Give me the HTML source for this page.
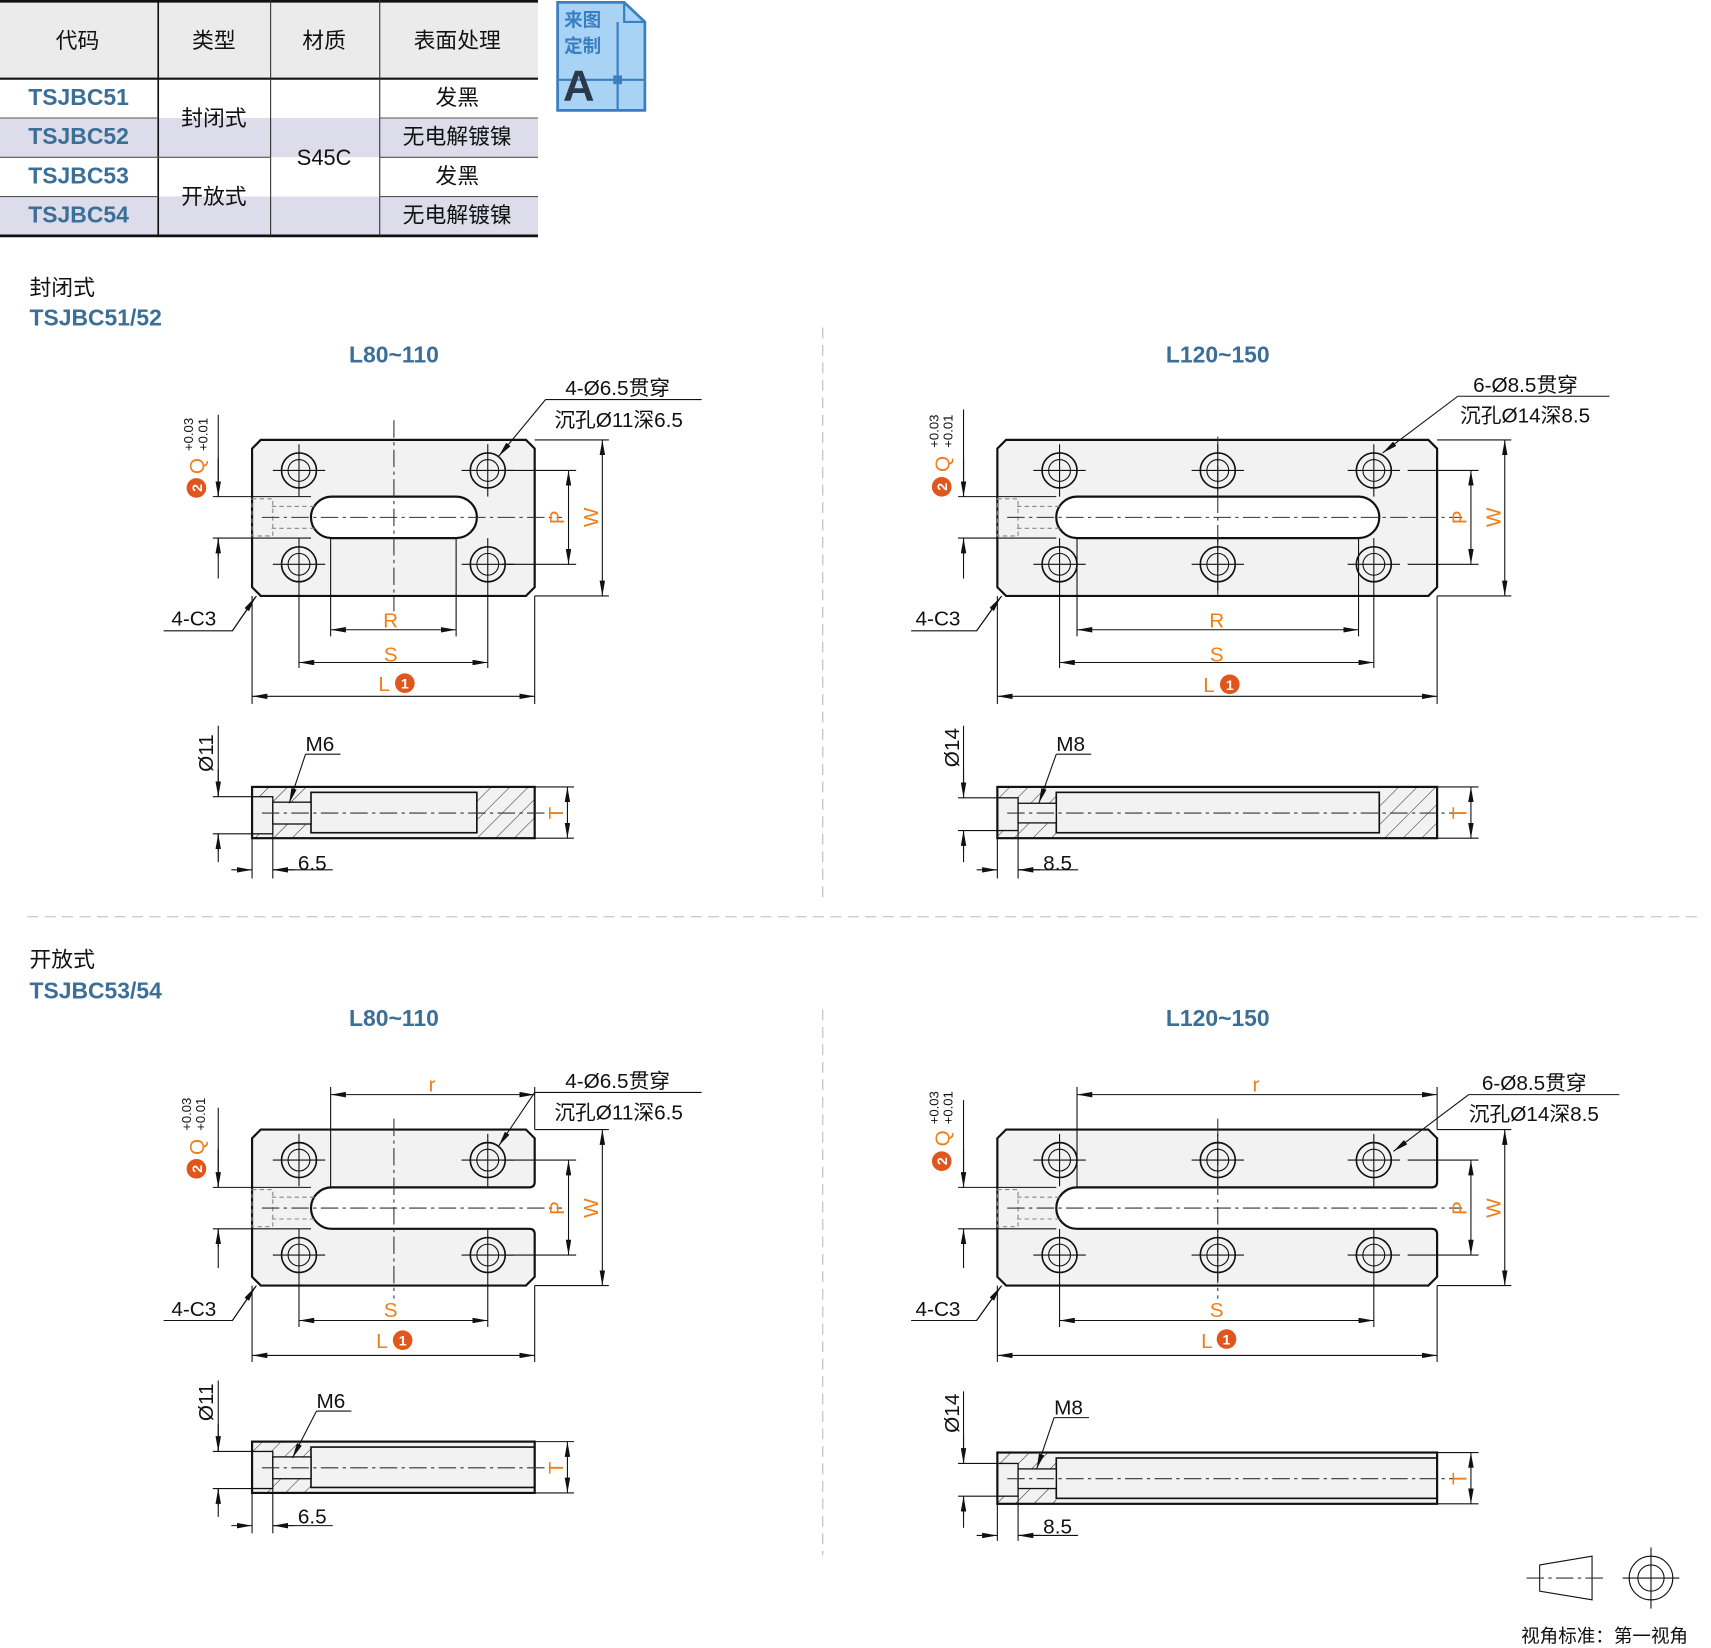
<!DOCTYPE html>
<html><head><meta charset="utf-8"><style>
html,body{margin:0;padding:0;background:#fff}
svg{display:block}
text{font-family:"Liberation Sans","Noto Sans CJK SC",sans-serif}
</style></head><body>
<svg width="1711" height="1648" viewBox="0 0 1568 1510" xmlns="http://www.w3.org/2000/svg">
<defs>
<marker id="a" viewBox="0 0 14 5" refX="14" refY="2.5" markerWidth="14" markerHeight="5" markerUnits="userSpaceOnUse" orient="auto-start-reverse"><path d="M0,0 L14,2.5 L0,5z" fill="#111"/></marker>
<pattern id="h" patternUnits="userSpaceOnUse" width="12" height="12" patternTransform="rotate(45)"><rect width="12" height="12" fill="#f2f2f2"/><line x1="0" y1="0" x2="0" y2="12" stroke="#333" stroke-width="1"/></pattern>
</defs>
<style>
.t{font-size:19px;fill:#111}
.o{font-size:19px;fill:#f07f1a}
.b{font-size:21px;fill:#3c6f98;font-weight:bold}
.th{stroke:#111;stroke-width:1;fill:none}
.pl{stroke:#111;stroke-width:2;fill:#f2f2f2}
.cl{stroke:#333;stroke-width:1;stroke-dasharray:16 4 3 4;fill:none}
.dh{stroke:#888;stroke-width:1;stroke-dasharray:4 3;fill:none}
.dm{stroke:#111;stroke-width:1;fill:none;marker-start:url(#a);marker-end:url(#a)}
.de{stroke:#111;stroke-width:1;fill:none;marker-end:url(#a)}
.sep{stroke:#bbb;stroke-width:1;stroke-dasharray:10 6}
</style>

<!-- TABLE -->
<rect x="0" y="0" width="493" height="72" fill="#ebebeb"/>
<rect x="0" y="108" width="145" height="36" fill="#dcdcea"/>
<rect x="0" y="180" width="145" height="36" fill="#dcdcea"/>
<rect x="145" y="108" width="348" height="36" fill="#dcdcea"/>
<rect x="145" y="180" width="348" height="36" fill="#dcdcea"/>
<rect x="145" y="72" width="203" height="36" fill="#fff"/>
<rect x="145" y="144" width="203" height="36" fill="#fff"/>
<rect x="145" y="108" width="103" height="36" fill="#dcdcea"/>
<rect x="145" y="180" width="103" height="36" fill="#dcdcea"/>
<line x1="0" y1="1" x2="493" y2="1" stroke="#111" stroke-width="2.5"/>
<line x1="0" y1="72" x2="493" y2="72" stroke="#111" stroke-width="2"/>
<line x1="0" y1="216" x2="493" y2="216" stroke="#111" stroke-width="2.5"/>
<line x1="145" y1="0" x2="145" y2="216" stroke="#111" stroke-width="1.5"/>
<line x1="248" y1="0" x2="248" y2="216" stroke="#333" stroke-width="1"/>
<line x1="348" y1="0" x2="348" y2="216" stroke="#333" stroke-width="1"/>
<g stroke="#555" stroke-width="1">
<line x1="0" y1="108" x2="145" y2="108"/><line x1="0" y1="144" x2="248" y2="144"/><line x1="0" y1="180" x2="145" y2="180"/>
<line x1="348" y1="108" x2="493" y2="108"/><line x1="348" y1="144" x2="493" y2="144"/><line x1="348" y1="180" x2="493" y2="180"/>
</g>
<g font-size="20" fill="#111" text-anchor="middle">
<text x="71" y="44">代码</text><text x="196" y="44">类型</text><text x="297" y="44">材质</text><text x="419" y="44">表面处理</text>
<text x="196" y="115">封闭式</text><text x="196" y="187">开放式</text><text x="297" y="151">S45C</text>
<text x="419" y="96">发黑</text><text x="419" y="132">无电解镀镍</text><text x="419" y="168">发黑</text><text x="419" y="204">无电解镀镍</text>
</g>
<g class="b" text-anchor="middle" font-size="20">
<text x="72" y="96">TSJBC51</text><text x="72" y="132">TSJBC52</text><text x="72" y="168">TSJBC53</text><text x="72" y="204">TSJBC54</text>
</g>
<!-- badge -->
<path d="M511,2 H572 L591,20 V101 H511 Z" fill="#a8d3f5" stroke="#3a7fc1" stroke-width="2.5"/>
<path d="M572,2 V20 H591" fill="none" stroke="#3a7fc1" stroke-width="2"/>
<line x1="511" y1="73" x2="591" y2="73" stroke="#3a7fc1" stroke-width="2"/>
<line x1="566" y1="20" x2="566" y2="101" stroke="#3a7fc1" stroke-width="2"/>
<rect x="562" y="69" width="8" height="8" fill="#3a7fc1"/>
<text x="517" y="24" font-size="17" fill="#3a7fc1" font-weight="bold">来图</text>
<text x="517" y="48" font-size="17" fill="#3a7fc1" font-weight="bold">定制</text>
<text x="516" y="92" font-size="40" fill="#2a3a4a" font-weight="bold">A</text>

<!-- headings -->
<text x="27" y="270" font-size="20" fill="#111">封闭式</text>
<text x="27" y="298" class="b">TSJBC51/52</text>
<text x="27" y="886" font-size="20" fill="#111">开放式</text>
<text x="27" y="915" class="b">TSJBC53/54</text>
<text x="361" y="332" class="b" text-anchor="middle">L80~110</text>
<text x="1116" y="332" class="b" text-anchor="middle">L120~150</text>
<text x="361" y="940" class="b" text-anchor="middle">L80~110</text>
<text x="1116" y="940" class="b" text-anchor="middle">L120~150</text>
<line class="sep" x1="754" y1="300" x2="754" y2="825"/>
<line class="sep" x1="754" y1="925" x2="754" y2="1425"/>
<line class="sep" x1="25" y1="840" x2="1555" y2="840"/>

<!-- ===== DRAWING 1 closed small ===== -->
<path class="pl" d="M239,403 H482 L490,411 V538 L482,546 H239 L231,538 V411 Z"/>
<rect x="285" y="455" width="152" height="38" rx="19" fill="#fff" stroke="#111" stroke-width="2"/>
<rect class="dh" x="231" y="457" width="19" height="34"/>
<line class="dh" x1="249" y1="464" x2="290" y2="464" stroke="#111"/><line class="dh" x1="249" y1="484" x2="290" y2="484" stroke="#111"/>
<line class="cl" x1="361" y1="385" x2="361" y2="560"/>
<line class="cl" x1="240" y1="474" x2="515" y2="474"/>
<g class="th">
<circle cx="274" cy="431" r="16" stroke-width="1.5"/><circle cx="274" cy="431" r="10"/>
<circle cx="447" cy="431" r="16" stroke-width="1.5"/><circle cx="447" cy="431" r="10"/>
<circle cx="274" cy="517" r="16" stroke-width="1.5"/><circle cx="274" cy="517" r="10"/>
<circle cx="447" cy="517" r="16" stroke-width="1.5"/><circle cx="447" cy="517" r="10"/>
<path d="M250,431 H298 M274,407 V455 M423,431 H471 M447,407 V455 M250,517 H298 M274,493 V541 M423,517 H471 M447,493 V541"/>
<path d="M195,455 H285 M195,493 H285 M460,431 H528 M460,517 H528 M490,403 H558 M490,546 H558"/>
<path d="M303,493 V583 M418,493 V583 M274,541 V612 M447,541 V612 M231,546 V645 M490,546 V645"/>
<path d="M235,546 L213,578 H150"/>
<path d="M500,366 H643"/>
<path d="M200,380 V455 M200,493 V510"/>
</g>
<line class="de" x1="200" y1="420" x2="200" y2="455"/><line class="de" x1="200" y1="530" x2="200" y2="493"/>
<line class="dm" x1="521" y1="431" x2="521" y2="517"/>
<line class="dm" x1="552" y1="403" x2="552" y2="546"/>
<line class="dm" x1="303" y1="577" x2="418" y2="577"/>
<line class="dm" x1="274" y1="607" x2="447" y2="607"/>
<line class="dm" x1="231" y1="638" x2="490" y2="638"/>
<line class="de" x1="213" y1="578" x2="234" y2="547"/>
<line class="de" x1="500" y1="366" x2="457" y2="418"/>
<text x="358" y="575" class="o" text-anchor="middle">R</text>
<text x="358" y="606" class="o" text-anchor="middle">S</text>
<text x="352" y="633" class="o" text-anchor="middle">L</text>
<circle cx="371" cy="626" r="9" fill="#e0561c"/><text x="371" y="631" font-size="13" fill="#fff" font-weight="bold" text-anchor="middle">1</text>
<text transform="translate(517,474) rotate(-90)" class="o" text-anchor="middle">P</text>
<text transform="translate(548,474) rotate(-90)" class="o" text-anchor="middle">W</text>
<circle cx="180" cy="447" r="9" fill="#e0561c"/><text transform="translate(185,447) rotate(-90)" font-size="13" fill="#fff" font-weight="bold" text-anchor="middle">2</text>
<text transform="translate(187,427) rotate(-90)" class="o" text-anchor="middle">Q</text>
<text transform="translate(177,398) rotate(-90)" font-size="12" fill="#111" text-anchor="middle">+0.03</text>
<text transform="translate(190,398) rotate(-90)" font-size="12" fill="#111" text-anchor="middle">+0.01</text>
<text x="157" y="573" class="t">4-C3</text>
<text x="518" y="362" class="t">4-Ø6.5贯穿</text>
<text x="508" y="391" class="t">沉孔Ø11深6.5</text>
<!-- side 1 -->
<rect x="231" y="721" width="259" height="47" fill="#f2f2f2"/>
<rect x="231" y="721" width="54" height="47" fill="url(#h)"/>
<rect x="437" y="721" width="53" height="47" fill="url(#h)"/>
<rect x="285" y="726" width="152" height="37" fill="#f2f2f2" stroke="#111" stroke-width="1.5"/>
<rect x="231" y="730" width="19" height="34" fill="#f2f2f2" stroke="#111" stroke-width="1.2"/>
<rect x="250" y="735" width="35" height="20" fill="#f2f2f2" stroke="#111" stroke-width="1.2"/>
<rect x="231" y="721" width="259" height="47" fill="none" stroke="#111" stroke-width="2"/>
<line class="cl" x1="240" y1="745" x2="515" y2="745"/>
<g class="th"><path d="M195,730 H231 M195,764 H231 M200,665 V730 M200,764 V780 M490,721 H526 M490,768 H526 M231,768 V805 M250,764 V805 M280,691 H312 M250,797 H305"/></g>
<line class="de" x1="200" y1="705" x2="200" y2="730"/><line class="de" x1="200" y1="790" x2="200" y2="764"/>
<line class="dm" x1="520" y1="721" x2="520" y2="768"/>
<line class="de" x1="212" y1="797" x2="231" y2="797"/><line class="de" x1="270" y1="797" x2="250" y2="797"/>
<line class="de" x1="280" y1="691" x2="265" y2="736"/>
<text transform="translate(195,690) rotate(-90)" class="t" text-anchor="middle">Ø11</text>
<text x="280" y="688" class="t">M6</text>
<text x="273" y="797" class="t">6.5</text>
<text transform="translate(516,745) rotate(-90)" class="o" text-anchor="middle">T</text>

<!-- ===== DRAWING 2 closed large ===== -->
<path class="pl" d="M922,403 H1309 L1317,411 V538 L1309,546 H922 L914,538 V411 Z"/>
<rect x="968" y="455" width="296" height="38" rx="19" fill="#fff" stroke="#111" stroke-width="2"/>
<rect class="dh" x="914" y="457" width="19" height="34"/>
<line class="dh" x1="932" y1="464" x2="973" y2="464" stroke="#111"/><line class="dh" x1="932" y1="484" x2="973" y2="484" stroke="#111"/>
<line class="cl" x1="1116" y1="400" x2="1116" y2="545"/>
<line class="cl" x1="923" y1="474" x2="1340" y2="474"/>
<g class="th">
<circle cx="971" cy="431" r="16" stroke-width="1.5"/><circle cx="971" cy="431" r="10"/>
<circle cx="1116" cy="431" r="16" stroke-width="1.5"/><circle cx="1116" cy="431" r="10"/>
<circle cx="1259" cy="431" r="16" stroke-width="1.5"/><circle cx="1259" cy="431" r="10"/>
<circle cx="971" cy="517" r="16" stroke-width="1.5"/><circle cx="971" cy="517" r="10"/>
<circle cx="1116" cy="517" r="16" stroke-width="1.5"/><circle cx="1116" cy="517" r="10"/>
<circle cx="1259" cy="517" r="16" stroke-width="1.5"/><circle cx="1259" cy="517" r="10"/>
<path d="M947,431 H995 M971,407 V455 M1092,431 H1140 M1116,407 V455 M1235,431 H1283 M1259,407 V455 M947,517 H995 M971,493 V541 M1092,517 H1140 M1116,493 V541 M1235,517 H1283 M1259,493 V541"/>
<path d="M878,455 H968 M878,493 H968 M1290,431 H1355 M1290,517 H1355 M1317,403 H1385 M1317,546 H1385"/>
<path d="M987,493 V583 M1245,493 V583 M971,541 V612 M1259,541 V612 M914,546 V645 M1317,546 V645"/>
<path d="M918,546 L895,578 H835"/>
<path d="M1336,363 H1475"/>
<path d="M883,375 V455 M883,493 V510"/>
</g>
<line class="de" x1="883" y1="420" x2="883" y2="455"/><line class="de" x1="883" y1="530" x2="883" y2="493"/>
<line class="dm" x1="1348" y1="431" x2="1348" y2="517"/>
<line class="dm" x1="1379" y1="403" x2="1379" y2="546"/>
<line class="dm" x1="987" y1="577" x2="1245" y2="577"/>
<line class="dm" x1="971" y1="607" x2="1259" y2="607"/>
<line class="dm" x1="914" y1="638" x2="1317" y2="638"/>
<line class="de" x1="895" y1="578" x2="917" y2="547"/>
<line class="de" x1="1336" y1="363" x2="1267" y2="415"/>
<text x="1115" y="575" class="o" text-anchor="middle">R</text>
<text x="1115" y="606" class="o" text-anchor="middle">S</text>
<text x="1108" y="634" class="o" text-anchor="middle">L</text>
<circle cx="1127" cy="627" r="9" fill="#e0561c"/><text x="1127" y="632" font-size="13" fill="#fff" font-weight="bold" text-anchor="middle">1</text>
<text transform="translate(1344,474) rotate(-90)" class="o" text-anchor="middle">P</text>
<text transform="translate(1375,474) rotate(-90)" class="o" text-anchor="middle">W</text>
<circle cx="863" cy="446" r="9" fill="#e0561c"/><text transform="translate(868,446) rotate(-90)" font-size="13" fill="#fff" font-weight="bold" text-anchor="middle">2</text>
<text transform="translate(870,425) rotate(-90)" class="o" text-anchor="middle">Q</text>
<text transform="translate(860,395) rotate(-90)" font-size="12" fill="#111" text-anchor="middle">+0.03</text>
<text transform="translate(873,395) rotate(-90)" font-size="12" fill="#111" text-anchor="middle">+0.01</text>
<text x="839" y="573" class="t">4-C3</text>
<text x="1350" y="359" class="t">6-Ø8.5贯穿</text>
<text x="1338" y="387" class="t">沉孔Ø14深8.5</text>
<!-- side 2 -->
<rect x="914" y="721" width="403" height="47" fill="#f2f2f2"/>
<rect x="914" y="721" width="54" height="47" fill="url(#h)"/>
<rect x="1264" y="721" width="53" height="47" fill="url(#h)"/>
<rect x="968" y="726" width="296" height="37" fill="#f2f2f2" stroke="#111" stroke-width="1.5"/>
<rect x="914" y="731" width="19" height="30" fill="#f2f2f2" stroke="#111" stroke-width="1.2"/>
<rect x="933" y="736" width="35" height="18" fill="#f2f2f2" stroke="#111" stroke-width="1.2"/>
<rect x="914" y="721" width="403" height="47" fill="none" stroke="#111" stroke-width="2"/>
<line class="cl" x1="923" y1="745" x2="1340" y2="745"/>
<g class="th"><path d="M878,731 H914 M878,761 H914 M883,665 V731 M883,761 V780 M1317,721 H1355 M1317,768 H1355 M914,768 V805 M933,761 V805 M968,691 H1000 M933,797 H988"/></g>
<line class="de" x1="883" y1="705" x2="883" y2="731"/><line class="de" x1="883" y1="790" x2="883" y2="761"/>
<line class="dm" x1="1348" y1="721" x2="1348" y2="768"/>
<line class="de" x1="895" y1="797" x2="914" y2="797"/><line class="de" x1="953" y1="797" x2="933" y2="797"/>
<line class="de" x1="968" y1="691" x2="952" y2="736"/>
<text transform="translate(879,685) rotate(-90)" class="t" text-anchor="middle">Ø14</text>
<text x="968" y="688" class="t">M8</text>
<text x="956" y="797" class="t">8.5</text>
<text transform="translate(1344,745) rotate(-90)" class="o" text-anchor="middle">T</text>

<!-- ===== DRAWING 3 open small ===== -->
<path class="pl" d="M239,1035 H482 L490,1043 V1083 Q490,1088 485,1088 H304 A19,19 0 0 0 304,1126 H485 Q490,1126 490,1131 V1170 L482,1178 H239 L231,1170 V1043 Z"/>
<rect class="dh" x="231" y="1090" width="19" height="34"/>
<line class="dh" x1="249" y1="1097" x2="290" y2="1097" stroke="#111"/><line class="dh" x1="249" y1="1117" x2="290" y2="1117" stroke="#111"/>
<line class="cl" x1="361" y1="1025" x2="361" y2="1190"/>
<line class="cl" x1="240" y1="1107" x2="515" y2="1107"/>
<g class="th">
<circle cx="274" cy="1063" r="16" stroke-width="1.5"/><circle cx="274" cy="1063" r="10"/>
<circle cx="447" cy="1063" r="16" stroke-width="1.5"/><circle cx="447" cy="1063" r="10"/>
<circle cx="274" cy="1150" r="16" stroke-width="1.5"/><circle cx="274" cy="1150" r="10"/>
<circle cx="447" cy="1150" r="16" stroke-width="1.5"/><circle cx="447" cy="1150" r="10"/>
<path d="M250,1063 H298 M274,1039 V1087 M423,1063 H471 M447,1039 V1087 M250,1150 H298 M274,1126 V1174 M423,1150 H471 M447,1126 V1174"/>
<path d="M195,1088 H285 M195,1126 H285 M460,1063 H528 M460,1150 H528 M490,1035 H558 M490,1178 H558"/>
<path d="M303,996 V1088 M490,996 V1035 M274,1174 V1216 M447,1174 V1216 M231,1178 V1248 M490,1178 V1248"/>
<path d="M235,1178 L213,1210 H150"/>
<path d="M490,1001 H643"/>
<path d="M200,1015 V1088 M200,1126 V1143"/>
</g>
<line class="de" x1="200" y1="1053" x2="200" y2="1088"/><line class="de" x1="200" y1="1162" x2="200" y2="1126"/>
<line class="dm" x1="303" y1="1003" x2="490" y2="1003"/>
<line class="dm" x1="521" y1="1063" x2="521" y2="1150"/>
<line class="dm" x1="552" y1="1035" x2="552" y2="1178"/>
<line class="dm" x1="274" y1="1210" x2="447" y2="1210"/>
<line class="dm" x1="231" y1="1242" x2="490" y2="1242"/>
<line class="de" x1="213" y1="1210" x2="234" y2="1179"/>
<line class="de" x1="490" y1="1001" x2="457" y2="1050"/>
<text x="396" y="1000" class="o" text-anchor="middle">r</text>
<text x="358" y="1207" class="o" text-anchor="middle">S</text>
<text x="350" y="1235" class="o" text-anchor="middle">L</text>
<circle cx="369" cy="1228" r="9" fill="#e0561c"/><text x="369" y="1233" font-size="13" fill="#fff" font-weight="bold" text-anchor="middle">1</text>
<text transform="translate(517,1107) rotate(-90)" class="o" text-anchor="middle">P</text>
<text transform="translate(548,1107) rotate(-90)" class="o" text-anchor="middle">W</text>
<circle cx="180" cy="1071" r="9" fill="#e0561c"/><text transform="translate(185,1071) rotate(-90)" font-size="13" fill="#fff" font-weight="bold" text-anchor="middle">2</text>
<text transform="translate(187,1051) rotate(-90)" class="o" text-anchor="middle">Q</text>
<text transform="translate(175,1021) rotate(-90)" font-size="12" fill="#111" text-anchor="middle">+0.03</text>
<text transform="translate(188,1021) rotate(-90)" font-size="12" fill="#111" text-anchor="middle">+0.01</text>
<text x="157" y="1206" class="t">4-C3</text>
<text x="518" y="997" class="t">4-Ø6.5贯穿</text>
<text x="508" y="1026" class="t">沉孔Ø11深6.5</text>
<!-- side 3 -->
<rect x="231" y="1321" width="259" height="47" fill="#f2f2f2"/>
<rect x="231" y="1321" width="54" height="47" fill="url(#h)"/>
<rect x="285" y="1326" width="205" height="37" fill="#f2f2f2" stroke="#111" stroke-width="1.5"/>
<rect x="231" y="1330" width="19" height="34" fill="#f2f2f2" stroke="#111" stroke-width="1.2"/>
<rect x="250" y="1335" width="35" height="20" fill="#f2f2f2" stroke="#111" stroke-width="1.2"/>
<rect x="231" y="1321" width="259" height="47" fill="none" stroke="#111" stroke-width="2"/>
<line class="cl" x1="240" y1="1345" x2="515" y2="1345"/>
<g class="th"><path d="M195,1330 H231 M195,1364 H231 M200,1265 V1330 M200,1364 V1380 M490,1321 H526 M490,1368 H526 M231,1368 V1405 M250,1364 V1405 M290,1293 H322 M250,1398 H305"/></g>
<line class="de" x1="200" y1="1305" x2="200" y2="1330"/><line class="de" x1="200" y1="1390" x2="200" y2="1364"/>
<line class="dm" x1="520" y1="1321" x2="520" y2="1368"/>
<line class="de" x1="212" y1="1398" x2="231" y2="1398"/><line class="de" x1="270" y1="1398" x2="250" y2="1398"/>
<line class="de" x1="290" y1="1293" x2="268" y2="1336"/>
<text transform="translate(195,1285) rotate(-90)" class="t" text-anchor="middle">Ø11</text>
<text x="290" y="1290" class="t">M6</text>
<text x="273" y="1396" class="t">6.5</text>
<text transform="translate(516,1345) rotate(-90)" class="o" text-anchor="middle">T</text>

<!-- ===== DRAWING 4 open large ===== -->
<path class="pl" d="M922,1035 H1309 L1317,1043 V1083 Q1317,1088 1312,1088 H987 A19,19 0 0 0 987,1126 H1312 Q1317,1126 1317,1131 V1170 L1309,1178 H922 L914,1170 V1043 Z"/>
<rect class="dh" x="914" y="1090" width="19" height="34"/>
<line class="dh" x1="932" y1="1097" x2="973" y2="1097" stroke="#111"/><line class="dh" x1="932" y1="1117" x2="973" y2="1117" stroke="#111"/>
<line class="cl" x1="1116" y1="1025" x2="1116" y2="1190"/>
<line class="cl" x1="923" y1="1107" x2="1340" y2="1107"/>
<g class="th">
<circle cx="971" cy="1063" r="16" stroke-width="1.5"/><circle cx="971" cy="1063" r="10"/>
<circle cx="1116" cy="1063" r="16" stroke-width="1.5"/><circle cx="1116" cy="1063" r="10"/>
<circle cx="1259" cy="1063" r="16" stroke-width="1.5"/><circle cx="1259" cy="1063" r="10"/>
<circle cx="971" cy="1150" r="16" stroke-width="1.5"/><circle cx="971" cy="1150" r="10"/>
<circle cx="1116" cy="1150" r="16" stroke-width="1.5"/><circle cx="1116" cy="1150" r="10"/>
<circle cx="1259" cy="1150" r="16" stroke-width="1.5"/><circle cx="1259" cy="1150" r="10"/>
<path d="M947,1063 H995 M971,1039 V1087 M1092,1063 H1140 M1116,1039 V1087 M1235,1063 H1283 M1259,1039 V1087 M947,1150 H995 M971,1126 V1174 M1092,1150 H1140 M1116,1126 V1174 M1235,1150 H1283 M1259,1126 V1174"/>
<path d="M878,1088 H968 M878,1126 H968 M1290,1063 H1355 M1290,1150 H1355 M1317,1035 H1385 M1317,1178 H1385"/>
<path d="M987,996 V1088 M1317,996 V1035 M971,1174 V1216 M1259,1174 V1216 M914,1178 V1248 M1317,1178 V1248"/>
<path d="M918,1178 L895,1210 H835"/>
<path d="M1346,1003 H1484"/>
<path d="M883,1008 V1088 M883,1126 V1143"/>
</g>
<line class="de" x1="883" y1="1053" x2="883" y2="1088"/><line class="de" x1="883" y1="1162" x2="883" y2="1126"/>
<line class="dm" x1="987" y1="1003" x2="1317" y2="1003"/>
<line class="dm" x1="1348" y1="1063" x2="1348" y2="1150"/>
<line class="dm" x1="1379" y1="1035" x2="1379" y2="1178"/>
<line class="dm" x1="971" y1="1210" x2="1259" y2="1210"/>
<line class="dm" x1="914" y1="1242" x2="1317" y2="1242"/>
<line class="de" x1="895" y1="1210" x2="917" y2="1179"/>
<line class="de" x1="1346" y1="1003" x2="1277" y2="1055"/>
<text x="1151" y="1000" class="o" text-anchor="middle">r</text>
<text x="1115" y="1207" class="o" text-anchor="middle">S</text>
<text x="1106" y="1235" class="o" text-anchor="middle">L</text>
<circle cx="1124" cy="1227" r="9" fill="#e0561c"/><text x="1124" y="1232" font-size="13" fill="#fff" font-weight="bold" text-anchor="middle">1</text>
<text transform="translate(1344,1107) rotate(-90)" class="o" text-anchor="middle">P</text>
<text transform="translate(1375,1107) rotate(-90)" class="o" text-anchor="middle">W</text>
<circle cx="863" cy="1064" r="9" fill="#e0561c"/><text transform="translate(868,1064) rotate(-90)" font-size="13" fill="#fff" font-weight="bold" text-anchor="middle">2</text>
<text transform="translate(870,1043) rotate(-90)" class="o" text-anchor="middle">Q</text>
<text transform="translate(860,1015) rotate(-90)" font-size="12" fill="#111" text-anchor="middle">+0.03</text>
<text transform="translate(873,1015) rotate(-90)" font-size="12" fill="#111" text-anchor="middle">+0.01</text>
<text x="839" y="1206" class="t">4-C3</text>
<text x="1358" y="999" class="t">6-Ø8.5贯穿</text>
<text x="1346" y="1027" class="t">沉孔Ø14深8.5</text>
<!-- side 4 -->
<rect x="914" y="1331" width="403" height="47" fill="#f2f2f2"/>
<rect x="914" y="1331" width="54" height="47" fill="url(#h)"/>
<rect x="968" y="1336" width="349" height="37" fill="#f2f2f2" stroke="#111" stroke-width="1.5"/>
<rect x="914" y="1341" width="19" height="30" fill="#f2f2f2" stroke="#111" stroke-width="1.2"/>
<rect x="933" y="1346" width="35" height="18" fill="#f2f2f2" stroke="#111" stroke-width="1.2"/>
<rect x="914" y="1331" width="403" height="47" fill="none" stroke="#111" stroke-width="2"/>
<line class="cl" x1="923" y1="1355" x2="1340" y2="1355"/>
<g class="th"><path d="M878,1341 H914 M878,1371 H914 M883,1275 V1341 M883,1371 V1390 M1317,1331 H1355 M1317,1378 H1355 M914,1378 V1412 M933,1371 V1412 M966,1299 H998 M933,1407 H988"/></g>
<line class="de" x1="883" y1="1315" x2="883" y2="1341"/><line class="de" x1="883" y1="1400" x2="883" y2="1371"/>
<line class="dm" x1="1348" y1="1331" x2="1348" y2="1378"/>
<line class="de" x1="895" y1="1407" x2="914" y2="1407"/><line class="de" x1="953" y1="1407" x2="933" y2="1407"/>
<line class="de" x1="966" y1="1299" x2="950" y2="1346"/>
<text transform="translate(879,1295) rotate(-90)" class="t" text-anchor="middle">Ø14</text>
<text x="966" y="1296" class="t">M8</text>
<text x="956" y="1405" class="t">8.5</text>
<text transform="translate(1344,1355) rotate(-90)" class="o" text-anchor="middle">T</text>

<!-- projection symbol -->
<g class="th">
<path d="M1411,1434 L1459,1426 V1466 L1411,1458 Z"/>
<circle cx="1513" cy="1446" r="20"/><circle cx="1513" cy="1446" r="12"/>
<path d="M1487,1446 H1539 M1513,1418 V1474"/>
</g>
<line class="cl" x1="1399" y1="1446" x2="1472" y2="1446"/>
<text x="1394" y="1505" font-size="17" fill="#111">视角标准：第一视角</text>
</svg>
</body></html>
